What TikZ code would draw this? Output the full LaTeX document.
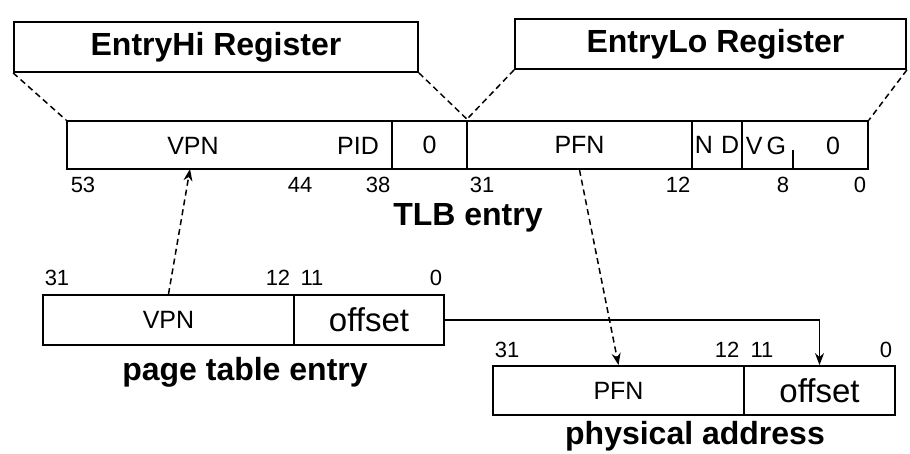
\documentclass[tikz,border=0pt]{standalone}
\usepackage{fontspec}
\setmainfont{Liberation Sans}
\usepackage{tikz}
\usetikzlibrary{arrows.meta}
\newcommand{\bigbold}{\fontsize{32}{36}\selectfont\bfseries}
\newcommand{\fieldsz}{\fontsize{25}{27}\selectfont}
\newcommand{\bitsz}{\fontsize{22}{24}\selectfont}
\newcommand{\offsz}{\fontsize{33}{35}\selectfont}
\tikzset{regbox/.style={draw, line width=1.8pt, minimum height=50pt, inner sep=0pt, font=\bigbold},
 field/.style={draw, line width=1.8pt, minimum height=48pt, inner sep=0pt, font=\fieldsz},
 bitnum/.style={inner sep=0pt, font=\bitsz},
 caption/.style={inner sep=0pt, font=\bigbold},
 guide/.style={dash pattern=on 6pt off 4pt, line width=1.5pt},
 }

\begin{document}
\begin{tikzpicture}[x=1pt, y=-1pt, >={Stealth[length=12pt, width=9pt]}]
        \useasboundingbox (0,0) rectangle (910,454);

        % registers
        \node[regbox, minimum width=404] (hireg) at (216,47) {EntryHi Register};
        \node[regbox, minimum width=391] (loreg) at (710.5,44) {\hspace{10pt}EntryLo Register};

        % TLB entry
        \node[field, minimum width=325] (tvpn) at (229.5,145) {};
        \node[field, minimum width=75] (tzero) at (429.5,145) {0};
        \node[field, minimum width=225] (tpfn) at (579.5,145) {PFN};
        \node[field, minimum width=50] (tnd) at (717,145) {N\,\,D};
        \node[field, minimum width=126] (tvg) at (805,145) {};
        \node[font=\fieldsz] (vpnlbl) at (193,146) {VPN};
        \node[font=\fieldsz] (pidlbl) at (358,146) {PID};
        \node[font=\fieldsz] (vglbl) at (766,146) {V\,G};
        \node[font=\fieldsz] (vgzero) at (833,146) {0};
        \draw[line width=1.5pt] (793,150) -- (tvg.south -| 793,0);
        \coordinate (vpnbit) at (190,169);

        \draw[guide] (hireg.south west) -- (tvpn.north west);
        \draw[guide] (hireg.south east) -- (tzero.north east);
        \draw[guide] (loreg.south west) -- (tpfn.north west);
        \draw[guide] (loreg.south east) -- (tvg.north east);

        \foreach \b/\x in {53/83, 44/300, 38/378, 31/482, 12/678, 8/783, 0/860}
            \node[bitnum] (tb\b) at (\x,185) {\b};
        \node[caption] (tlbcap) at (468,218) {TLB entry};

        % page table entry
        \node[field, minimum width=251, minimum height=50pt] (pvpn) at (168.5,320) {VPN};
        \node[field, minimum width=150, minimum height=50pt, font=\offsz] (poff) at (369,320) {offset};
        \foreach \b/\x in {31/57, 12/278, 11/312, 0/436}
            \node[bitnum] (pb\b) at (\x,278) {\b};
        \node[caption] (pcap) at (245,372) {page table entry};

        % physical address
        \node[field, minimum width=251, minimum height=49pt] (apfn) at (618.5,390.5) {PFN};
        \node[field, minimum width=151, minimum height=49pt, font=\offsz] (aoff) at (819.5,390.5) {offset};
        \foreach \b/\x in {31/507, 12/727, 11/762, 0/886}
            \node[bitnum] (ab\b) at (\x,350) {\b};
        \node[caption] (acap) at (695,436) {physical address};

        % connectors
        \draw[guide, ->] (pvpn.north) -- (vpnbit);
        \draw[guide, ->] (tpfn.south) -- (apfn.north);
        \draw[line width=1.5pt, ->] (poff.east) -| (aoff.north);
\end{tikzpicture}
\end{document}
